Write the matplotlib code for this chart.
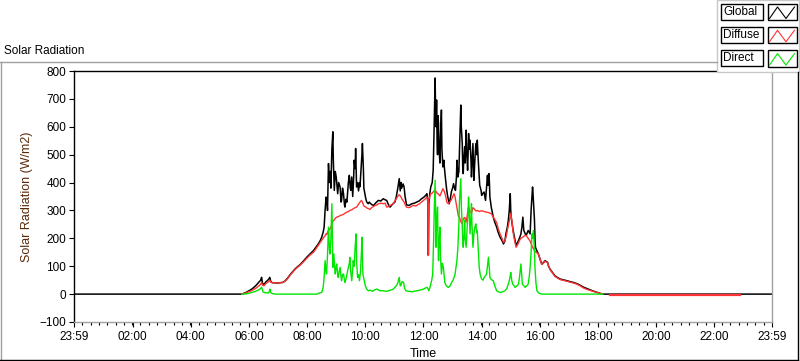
import numpy as np
import matplotlib.pyplot as plt
from matplotlib.patches import Rectangle

# readings: (minute of day, W/m2)
global_pts = [
    (0, 0), (345, 0), (350, 3), (355, 7), (360, 12), (365, 17), (370, 24), (375, 32),
    (380, 42), (384, 50), (386, 60), (388, 38), (391, 35), (395, 44), (400, 52), (403, 60),
    (405, 45), (408, 41), (420, 40), (430, 42), (435, 48), (440, 58), (445, 70), (450, 80),
    (455, 90), (460, 98), (465, 105), (472, 118), (479, 132), (486, 144), (493, 156),
    (498, 168), (503, 180), (507, 192), (510, 204), (513, 222), (515, 240), (517, 300),
    (519, 348), (521, 330), (522, 300), (524, 468), (526, 400), (528, 440), (529, 380),
    (531, 520), (533, 582), (534, 480), (536, 372), (538, 440), (540, 420), (542, 380),
    (543, 360), (545, 400), (548, 384), (550, 330), (551, 336), (553, 380), (555, 360),
    (557, 320), (558, 312), (560, 340), (562, 330), (565, 400), (567, 426), (569, 380),
    (570, 372), (572, 420), (574, 350), (576, 420), (577, 480), (579, 450), (580, 522),
    (582, 384), (584, 400), (586, 370), (588, 400), (589, 385), (591, 440), (593, 500),
    (594, 540), (596, 450), (597, 380), (599, 360), (601, 342), (603, 330), (606, 324),
    (608, 330), (610, 326), (614, 320), (617, 318), (622, 328), (627, 336), (632, 334),
    (637, 342), (641, 338), (644, 336), (648, 320), (651, 312), (656, 322), (661, 330),
    (664, 350), (667, 380), (670, 414), (672, 370), (674, 400), (675, 380), (678, 395),
    (680, 384), (682, 350), (685, 320), (690, 318), (696, 324), (701, 326), (706, 330),
    (711, 334), (716, 342), (721, 348), (725, 355), (727, 360), (729, 330), (730, 140),
    (731, 320), (733, 360), (735, 384), (738, 400), (740, 444), (742, 600), (744, 775),
    (745, 650), (746, 600), (747, 696), (748, 560), (749, 500), (750, 640), (751, 612),
    (752, 520), (754, 470), (755, 560), (757, 660), (758, 520), (760, 456), (762, 480),
    (763, 456), (765, 420), (768, 372), (770, 350), (773, 324), (775, 340), (778, 370),
    (780, 380), (782, 396), (784, 380), (786, 372), (788, 420), (789, 480), (791, 420),
    (793, 440), (795, 560), (797, 678), (798, 600), (800, 540), (801, 450), (802, 432),
    (803, 480), (805, 528), (806, 470), (808, 588), (809, 520), (811, 444), (812, 500),
    (813, 576), (815, 520), (816, 552), (818, 480), (819, 420), (821, 500), (822, 540),
    (823, 470), (824, 408), (826, 480), (828, 540), (830, 500), (831, 552), (833, 480),
    (835, 420), (836, 390), (837, 384), (839, 370), (840, 354), (842, 360), (845, 366),
    (847, 345), (848, 336), (850, 380), (852, 426), (853, 390), (855, 432), (856, 400),
    (857, 348), (860, 310), (864, 276), (867, 258), (871, 240), (874, 222), (878, 204),
    (882, 192), (885, 180), (888, 190), (890, 216), (893, 240), (895, 264), (897, 300),
    (899, 360), (900, 300), (901, 276), (903, 250), (905, 228), (908, 200), (911, 174),
    (914, 185), (916, 192), (919, 205), (921, 216), (923, 240), (925, 276), (926, 250),
    (927, 228), (930, 216), (932, 210), (934, 220), (936, 228), (938, 222), (940, 216),
    (942, 300), (943, 330), (945, 384), (946, 360), (948, 300), (949, 264), (950, 200),
    (951, 168), (954, 155), (957, 144), (960, 128), (964, 108), (967, 112), (971, 120),
    (974, 116), (976, 114), (978, 100), (981, 90), (986, 78), (991, 66), (996, 60),
    (1002, 54), (1009, 51), (1016, 48), (1022, 45), (1029, 42), (1036, 38), (1043, 32),
    (1050, 25), (1057, 20), (1064, 15), (1070, 11), (1077, 7), (1084, 3), (1090, 0),
    (1439, 0),
]

diffuse_pts = [
    (345, 0), (350, 3), (355, 5), (360, 9), (365, 12), (370, 17), (375, 22), (380, 29),
    (384, 35), (386, 42), (388, 32), (391, 30), (395, 38), (400, 44), (403, 50), (405, 43),
    (408, 41), (420, 40), (430, 42), (435, 47), (440, 56), (445, 68), (450, 78), (455, 88),
    (460, 96), (465, 103), (472, 115), (479, 128), (486, 140), (493, 150), (498, 162),
    (503, 175), (507, 185), (510, 193), (513, 200), (515, 205), (517, 210), (519, 216),
    (521, 214), (522, 222), (524, 228), (527, 234), (529, 240), (531, 248), (533, 262),
    (536, 266), (538, 272), (541, 276), (545, 278), (548, 282), (552, 284), (555, 286),
    (558, 290), (562, 294), (565, 296), (568, 300), (572, 302), (575, 306), (579, 310),
    (582, 312), (586, 322), (589, 330), (592, 336), (594, 330), (597, 316), (601, 312),
    (604, 308), (607, 306), (610, 304), (613, 310), (617, 314), (620, 318), (624, 320),
    (627, 324), (632, 326), (637, 324), (641, 326), (644, 312), (648, 314), (651, 318),
    (654, 320), (658, 326), (661, 334), (664, 342), (668, 354), (670, 356), (673, 350),
    (676, 340), (680, 330), (683, 318), (685, 312), (689, 310), (693, 312), (696, 316),
    (700, 318), (704, 316), (708, 320), (712, 324), (716, 330), (720, 336), (724, 342),
    (727, 348), (729, 340), (730, 138), (731, 340), (735, 360), (738, 362), (740, 366),
    (743, 372), (746, 368), (748, 362), (751, 358), (754, 352), (757, 365), (760, 378),
    (763, 368), (766, 350), (768, 330), (771, 324), (774, 330), (778, 340), (781, 352),
    (783, 360), (785, 350), (787, 330), (790, 300), (792, 280), (794, 276), (797, 260),
    (800, 252), (802, 270), (805, 275), (808, 258), (811, 290), (813, 312), (816, 296),
    (819, 290), (822, 310), (825, 305), (828, 298), (831, 300), (835, 296), (838, 298),
    (842, 298), (845, 296), (850, 294), (855, 292), (860, 288), (864, 276), (867, 268),
    (871, 256), (874, 236), (878, 216), (882, 200), (885, 186), (888, 190), (891, 210),
    (894, 238), (897, 262), (900, 290), (903, 255), (905, 220), (908, 192), (911, 168),
    (914, 176), (918, 192), (921, 200), (925, 204), (929, 210), (932, 210), (936, 200),
    (940, 190), (944, 172), (947, 162), (951, 152), (957, 144), (964, 106), (967, 110),
    (971, 118), (976, 112), (981, 88), (986, 76), (991, 64), (996, 58), (1002, 52),
    (1009, 49), (1016, 46), (1022, 43), (1029, 40), (1036, 36), (1043, 30), (1050, 22),
    (1057, 17), (1064, 13), (1070, 10), (1077, 6), (1084, 3), (1090, 0),
]
diffuse_night = [(1105, -2.5), (1373, -2.5)]

direct_pts = [
    (345, 0), (355, 1), (360, 3), (370, 8), (380, 15), (384, 20), (386, 25), (389, 8),
    (393, 5), (400, 4), (402, 10), (403, 18), (405, 5), (408, 2), (415, 0), (500, 0),
    (505, 4), (510, 6), (513, 24), (515, 60), (517, 120), (519, 80), (520, 72), (522, 140),
    (524, 240), (526, 160), (527, 144), (529, 200), (531, 324), (532, 200), (533, 96),
    (534, 120), (535, 144), (537, 90), (538, 72), (540, 100), (541, 108), (543, 70),
    (544, 60), (546, 80), (548, 96), (550, 60), (551, 48), (553, 70), (555, 72), (557, 50),
    (558, 42), (561, 60), (563, 80), (565, 96), (567, 110), (568, 132), (570, 80), (572, 48),
    (574, 90), (575, 120), (577, 100), (579, 168), (581, 216), (582, 120), (584, 60),
    (586, 70), (588, 48), (590, 80), (592, 150), (593, 204), (594, 140), (595, 72),
    (597, 55), (598, 48), (600, 30), (603, 18), (606, 12), (610, 14), (615, 10), (620, 16),
    (624, 18), (630, 12), (637, 12), (644, 10), (651, 14), (656, 16), (661, 24), (664, 30),
    (667, 40), (670, 60), (672, 30), (673, 30), (676, 45), (679, 42), (681, 20), (684, 12),
    (688, 10), (692, 10), (697, 8), (700, 10), (706, 12), (712, 14), (716, 16), (720, 18),
    (724, 22), (727, 24), (729, 20), (731, 12), (733, 22), (735, 36), (737, 50), (739, 72),
    (741, 200), (742, 288), (743, 350), (744, 408), (745, 300), (746, 168), (747, 260),
    (749, 312), (750, 200), (751, 120), (752, 180), (754, 240), (755, 140), (757, 72),
    (759, 110), (761, 96), (763, 60), (764, 42), (767, 30), (771, 24), (775, 30), (778, 42),
    (781, 50), (783, 60), (785, 70), (787, 96), (789, 120), (791, 168), (793, 250),
    (794, 324), (796, 380), (797, 414), (798, 320), (800, 240), (801, 190), (802, 168),
    (804, 220), (805, 264), (806, 200), (808, 168), (809, 200), (811, 264), (812, 300),
    (813, 348), (815, 260), (816, 216), (818, 280), (819, 324), (820, 250), (822, 168),
    (823, 190), (824, 216), (826, 240), (828, 252), (830, 220), (831, 228), (833, 160),
    (835, 96), (837, 70), (840, 54), (843, 50), (845, 60), (848, 66), (850, 72), (852, 100),
    (854, 132), (856, 90), (857, 60), (860, 52), (864, 48), (867, 30), (871, 12), (875, 8),
    (878, 6), (883, 8), (888, 12), (892, 20), (895, 36), (897, 48), (899, 65), (900, 78),
    (902, 50), (904, 36), (907, 30), (909, 24), (912, 28), (916, 36), (918, 60), (920, 90),
    (921, 108), (923, 60), (924, 36), (927, 30), (930, 24), (933, 30), (936, 36), (938, 60),
    (940, 96), (942, 150), (944, 216), (945, 200), (947, 228), (949, 150), (950, 96),
    (952, 40), (954, 12), (957, 5), (960, 2), (965, 0), (1090, 0),
]

tick_minutes = [-1, 120, 240, 360, 480, 600, 720, 840, 960, 1080, 1200, 1320, 1439]
tick_labels = ['23:59', '02:00', '04:00', '06:00', '08:00', '10:00', '12:00',
               '14:00', '16:00', '18:00', '20:00', '22:00', '23:59']
series_names = ['Global', 'Diffuse', 'Direct']
series_colors = ['black', '#ff3333', '#00e600']

plt.rcParams['font.family'] = ['Liberation Sans', 'DejaVu Sans']
plt.rcParams['font.size'] = 8

W, H = 800, 361
fig = plt.figure(figsize=(W / 100, H / 100), dpi=100)
ax = fig.add_axes([74 / W, 1 - 322 / H, 698 / W, 251 / H])

gt, gv = zip(*global_pts)
ax.plot(gt, gv, color=series_colors[0], lw=1.1)

dt = [p[0] for p in diffuse_pts] + [np.nan] + [p[0] for p in diffuse_night]
dv = [p[1] for p in diffuse_pts] + [np.nan] + [p[1] for p in diffuse_night]
ax.plot(dt, dv, color=series_colors[1], lw=1.0)
nt, nv = zip(*diffuse_night)
ax.plot(nt, nv, color=series_colors[1], lw=1.6)

st, sv = zip(*direct_pts)
ax.plot(st, sv, color=series_colors[2], lw=1.0)

ax.set_xlim(-1, 1439)
ax.set_ylim(-100, 800)
ax.set_yticks(range(-100, 801, 100))
ax.set_xticks(tick_minutes)
ax.set_xticklabels(tick_labels)
ax.set_xticks(np.linspace(-1, 1439, 12 * 7 + 1), minor=True)
ax.tick_params(axis='both', which='major', length=3.6, width=0.8, color='black', pad=2,
               labelsize=8.5)
ax.tick_params(axis='x', which='major', pad=3)
ax.tick_params(axis='x', which='minor', length=2.2, width=0.8, color='black')

for side in ['left', 'top']:
    ax.spines[side].set_color('black')
for side in ['right', 'bottom']:
    ax.spines[side].set_color('#a0a0a0')
for s in ax.spines.values():
    s.set_linewidth(1.0)

ax.set_ylabel('Solar Radiation (W/m2)', color='#5a2a08', fontsize=9)
ax.yaxis.set_label_coords(-0.0587, 0.5)
ax.set_xlabel('Time', fontsize=9)
ax.xaxis.set_label_coords(0.5, -0.104)

# frame, title and legend in pixel coordinates
ov = fig.add_axes([0, 0, 1, 1])
ov.set_xlim(0, W)
ov.set_ylim(H, 0)
ov.axis('off')
ov.patch.set_alpha(0)

ov.plot([0, 717], [61.5, 61.5], color='#a0a0a0', lw=1)
ov.plot([0.5, 0.5], [61.5, 359.5], color='#a0a0a0', lw=1)
ov.plot([0, 798], [359.5, 359.5], color='black', lw=1)
ov.plot([797.5, 797.5], [72, 359.5], color='black', lw=1)
ov.text(4, 51, 'Solar Radiation', ha='left', va='center', fontsize=8.5)

ov.add_patch(Rectangle((717, 0), 82, 72, facecolor='white', edgecolor='#c8c8c8', lw=1))
for i, (name, col) in enumerate(zip(series_names, series_colors)):
    y0 = 3.5 + i * 23.3
    ov.add_patch(Rectangle((721, y0), 42, 16, facecolor='white', edgecolor='black', lw=1))
    ov.add_patch(Rectangle((767.5, y0), 29.5, 16.5, facecolor='white', edgecolor='black', lw=1))
    ov.text(723, y0 + 8.3, name, ha='left', va='center', fontsize=8.5)
    ov.plot([769.5, 777.5, 786, 794.5], [y0 + 15, y0 + 3.5, y0 + 15, y0 + 3.5], color=col, lw=0.8)

fig.savefig('out.png', dpi=100)
